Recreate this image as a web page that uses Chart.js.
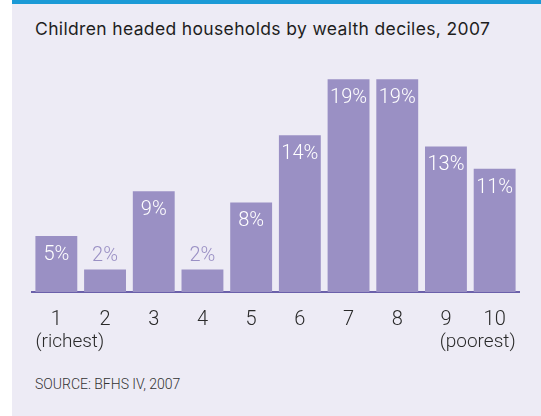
<!DOCTYPE html>
<html>
<head>
<meta charset="utf-8">
<script src="https://cdn.jsdelivr.net/npm/chart.js@4.4.1/dist/chart.umd.min.js"></script>
<style>
  html, body { margin: 0; padding: 0; background: #fff; }
  #card {
    position: absolute; left: 12px; top: 0; width: 529px; height: 412px;
    background: #edebf5; border-top: 4px solid #1b9ad6;
  }
  #title {
    position: absolute; left: 35px; top: 19px; white-space: nowrap; line-height: 20px;
    font-family: Inter, "Noto Sans", Arial, sans-serif; font-size: 17.5px; letter-spacing: 0.35px; color: #1e1e1e;
  }
  #source {
    position: absolute; left: 35px; top: 375px; white-space: nowrap; line-height: 18px;
    font-family: Roboto, Arial, sans-serif; font-weight: 300; font-size: 14px; color: #333;
  }
  #wrap { position: absolute; left: 0; top: 0; width: 541px; height: 416px; }
</style>
</head>
<body>
<div id="card"></div>
<div id="title">Children headed households by wealth deciles, 2007</div>
<div id="source">SOURCE: BFHS IV, 2007</div>
<div id="wrap"><canvas id="chart" width="541" height="416"></canvas></div>
<script>
/* Children headed households by wealth decile */

// Data
var deciles = ['1', '2', '3', '4', '5', '6', '7', '8', '9', '10'];
var shares  = [5, 2, 9, 2, 8, 14, 19, 19, 13, 11];
var endNotes = ['(richest)', '(poorest)'];

var BAR = '#9a90c4';
var LINE = '#6b60aa';
var FONT = 'Roboto, "Liberation Sans", sans-serif';

// value labels: white inside the bar, purple above short bars
var valueLabels = {
    id: 'valueLabels',
    afterDatasetsDraw: function (chart) {
        var ctx = chart.ctx;
        var meta = chart.getDatasetMeta(0);
        ctx.save();
        ctx.font = '300 20px ' + FONT;
        ctx.textAlign = 'center';
        ctx.textBaseline = 'middle';
        meta.data.forEach(function (bar, i) {
            var v = shares[i];
            if (v >= 4) {
                ctx.fillStyle = '#ffffff';
                ctx.fillText(v + '%', bar.x, bar.y + 19);
            } else {
                ctx.fillStyle = BAR;
                ctx.fillText(v + '%', bar.x, bar.y - 14);
            }
        });
        ctx.restore();
    }
};

// "(richest)" / "(poorest)" under the first and last tick
var endLabels = {
    id: 'endLabels',
    afterDraw: function (chart) {
        var ctx = chart.ctx;
        var meta = chart.getDatasetMeta(0);
        var first = meta.data[0], last = meta.data[meta.data.length - 1];
        var y = chart.chartArea.bottom + 50;
        ctx.save();
        ctx.font = '300 19px ' + FONT;
        ctx.fillStyle = '#2a2a2a';
        ctx.textBaseline = 'middle';
        ctx.textAlign = 'left';
        ctx.fillText(endNotes[0], first.x - first.width / 2, y);
        ctx.textAlign = 'right';
        ctx.fillText(endNotes[1], last.x + last.width / 2, y);
        ctx.restore();
    }
};

new Chart(document.getElementById('chart'), {
    type: 'bar',
    data: {
        labels: deciles,
        datasets: [{
            data: shares,
            backgroundColor: BAR,
            borderWidth: 0,
            barPercentage: 0.86,
            categoryPercentage: 1
        }]
    },
    options: {
        responsive: false,
        animation: false,
        devicePixelRatio: 1,
        layout: { padding: { left: 32, right: 22, top: 68, bottom: 0 } },
        plugins: {
            legend: { display: false },
            tooltip: { enabled: false }
        },
        scales: {
            x: {
                afterFit: function (s) { s.height = 124; },
                grid: { display: true, color: 'rgba(0,0,0,0)', drawOnChartArea: false, drawTicks: false },
                border: { display: true, color: LINE, width: 2 },
                ticks: {
                    padding: 16,
                    color: '#2a2a2a',
                    font: { family: FONT, size: 20, weight: 300 }
                }
            },
            y: {
                display: false,
                min: 0,
                max: 20
            }
        }
    },
    plugins: [valueLabels, endLabels]
});
</script>
</body>
</html>
